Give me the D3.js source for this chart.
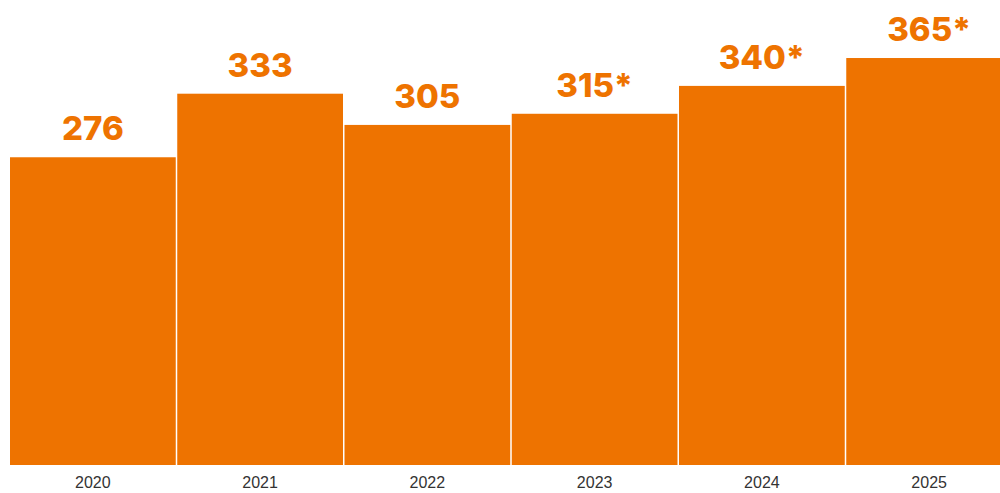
<!DOCTYPE html>
<html>
<head>
  <meta charset="utf-8">
  <title>Bar chart</title>
  <style>
    body { margin: 0; background: #fff; }
  </style>
</head>
<body>
  <svg width="1000" height="493"></svg>
  <script src="https://d3js.org/d3.v7.min.js"></script>
  <script>
  // data
  var years = ["2020", "2021", "2022", "2023", "2024", "2025"];
  var values = [276, 333, 305, 315, 340, 365];
  var valueLabels = ["276", "333", "305", "315*", "340*", "365*"];

  var svg = d3.select("svg");
  var orange = "#ee7300";

  var x = d3.scaleBand()
    .domain(years)
    .range([10, 1012])
    .paddingInner(0.009);

  var y = d3.scaleLinear()
    .domain([0, 400])
    .range([465, 19]);

  // bars
  svg.selectAll(".bar")
    .data(values)
    .enter()
    .append("rect")
    .attr("class", "bar")
    .attr("x", function(d, i) { return x(years[i]); })
    .attr("y", function(d) { return y(d); })
    .attr("width", x.bandwidth())
    .attr("height", function(d) { return y(0) - y(d); })
    .attr("fill", orange);

  // value labels
  svg.selectAll(".val")
    .data(values)
    .enter()
    .append("text")
    .attr("class", "val")
    .attr("x", function(d, i) { return x(years[i]) + x.bandwidth() / 2; })
    .attr("y", function(d) { return y(d) - 17; })
    .attr("text-anchor", "middle")
    .attr("font-family", "Inter, 'Open Sans', sans-serif")
    .attr("font-weight", 800)
    .attr("font-size", 33)
    .attr("fill", orange)
    .text(function(d, i) { return valueLabels[i]; });

  // x axis labels
  var xAxis = d3.axisBottom(x).tickSize(0).tickPadding(0);
  var gx = svg.append("g")
    .attr("transform", "translate(0,488)")
    .call(xAxis);
  gx.select(".domain").remove();
  gx.selectAll("text")
    .attr("dy", 0)
    .attr("font-family", "'Liberation Sans', Arial, sans-serif")
    .attr("font-size", 16)
    .attr("fill", "#333");
  </script>
</body>
</html>
